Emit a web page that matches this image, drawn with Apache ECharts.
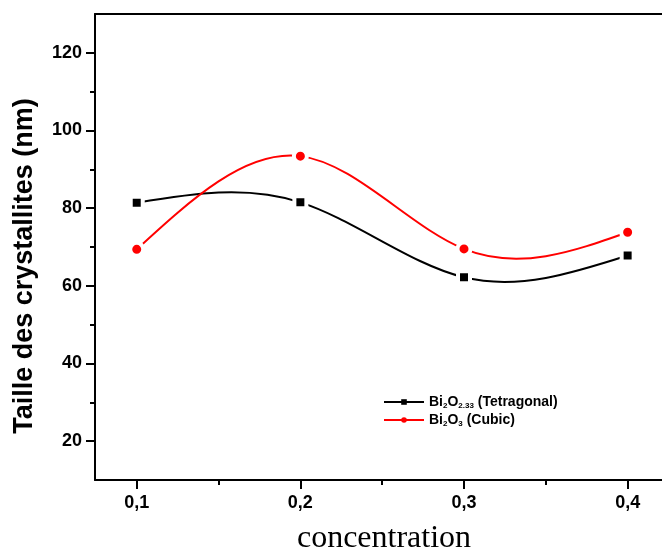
<!DOCTYPE html>
<html>
<head>
<meta charset="utf-8">
<script src="https://cdn.jsdelivr.net/npm/echarts@6/dist/echarts.min.js"></script>
<style>
  html, body { margin: 0; padding: 0; background: #fff; }
  #chart { width: 662px; height: 554px; }
</style>
</head>
<body>
<div id="chart"></div>
<script>
// données
var concentrations = [0.1, 0.2, 0.3, 0.4];
var tetragonal = [81.4, 81.5, 62.2, 67.8];
var cubic = [69.4, 93.4, 69.5, 73.8];
var yTicks = [20, 40, 60, 80, 100, 120];
var yMinorTicks = [30, 50, 70, 90, 110];
var xTicks = [0.1, 0.2, 0.3, 0.4];
var xMinorTicks = [0.15, 0.25, 0.35];
var seriesNames = ['Bi2O2.33 (Tetragonal)', 'Bi2O3 (Cubic)'];
var seriesColors = ['#000000', '#ff0000'];
var legendRich = {
  'Bi2O2.33 (Tetragonal)': '{n|Bi}{s|2}{n|O}{s|2.33}{n| (Tetragonal)}',
  'Bi2O3 (Cubic)': '{n|Bi}{s|2}{n|O}{s|3}{n| (Cubic)}'
};

function pairs(ys) {
  return concentrations.map(function (x, i) { return [x, ys[i]]; });
}

// spline cubique naturelle (comme Origin) tracée en pixels à partir des points convertis par l'axe
function splineRenderer(ys, color) {
  return function (params, api) {
    if (params.dataIndex !== 0) return null;
    var p = concentrations.map(function (x, i) { return api.coord([x, ys[i]]); });
    var n = p.length;
    var h = [], M = new Array(n).fill(0);
    for (var i = 0; i < n - 1; i++) h.push(p[i + 1][0] - p[i][0]);
    // système tridiagonal pour les dérivées secondes
    var a = [], b = [], c = [], d = [];
    for (var i = 1; i < n - 1; i++) {
      a.push(h[i - 1]); b.push(2 * (h[i - 1] + h[i])); c.push(h[i]);
      d.push(6 * ((p[i + 1][1] - p[i][1]) / h[i] - (p[i][1] - p[i - 1][1]) / h[i - 1]));
    }
    var m = b.length;
    for (var i = 1; i < m; i++) {
      var w = a[i] / b[i - 1];
      b[i] -= w * c[i - 1]; d[i] -= w * d[i - 1];
    }
    var sol = new Array(m);
    for (var i = m - 1; i >= 0; i--) sol[i] = (d[i] - (i < m - 1 ? c[i] * sol[i + 1] : 0)) / b[i];
    for (var i = 0; i < m; i++) M[i + 1] = sol[i];
    var children = [];
    for (var i = 0; i < n - 1; i++) {
      var dy = (p[i + 1][1] - p[i][1]) / h[i];
      var s0 = dy - h[i] * (2 * M[i] + M[i + 1]) / 6;
      var s1 = dy + h[i] * (M[i] + 2 * M[i + 1]) / 6;
      children.push({
        type: 'bezierCurve',
        shape: {
          x1: p[i][0], y1: p[i][1], x2: p[i + 1][0], y2: p[i + 1][1],
          cpx1: p[i][0] + h[i] / 3, cpy1: p[i][1] + s0 * h[i] / 3,
          cpx2: p[i + 1][0] - h[i] / 3, cpy2: p[i + 1][1] - s1 * h[i] / 3
        },
        style: { stroke: color, lineWidth: 2, fill: null }
      });
    }
    return { type: 'group', children: children };
  };
}

var chart = echarts.init(document.getElementById('chart'));
var font = 'Liberation Sans, Arial, sans-serif';

var option = {
  animation: false,
  backgroundColor: '#fff',
  grid: { left: 95, right: 0, top: 14, bottom: 74 },
  xAxis: [
    {
      type: 'value', min: 0.0745, max: 0.421,
      axisLine: { show: true, onZero: false, lineStyle: { color: '#000', width: 2 } },
      axisTick: { show: true, customValues: xTicks, length: 9, lineStyle: { color: '#000', width: 2 } },
      axisLabel: {
        customValues: xTicks, margin: 14, color: '#000', fontFamily: font,
        fontWeight: 'bold', fontSize: 18,
        formatter: function (v) { return String(v).replace('.', ','); }
      },
      splitLine: { show: false }
    },
    {
      type: 'value', min: 0.0745, max: 0.421, position: 'bottom',
      axisLine: { show: false },
      axisTick: { show: true, customValues: xMinorTicks, length: 5, lineStyle: { color: '#000', width: 2 } },
      axisLabel: { show: false },
      splitLine: { show: false }
    },
    {
      type: 'value', min: 0.0745, max: 0.421, position: 'top',
      axisLine: { show: true, onZero: false, lineStyle: { color: '#000', width: 2 } },
      axisTick: { show: false }, axisLabel: { show: false }, splitLine: { show: false }
    }
  ],
  yAxis: [
    {
      type: 'value', min: 10, max: 130,
      axisLine: { show: true, onZero: false, lineStyle: { color: '#000', width: 2 } },
      axisTick: { show: true, customValues: yTicks, length: 9, lineStyle: { color: '#000', width: 2 } },
      axisLabel: {
        customValues: yTicks, margin: 13, color: '#000', fontFamily: font,
        fontWeight: 'bold', fontSize: 18
      },
      splitLine: { show: false }
    },
    {
      type: 'value', min: 10, max: 130, position: 'left',
      axisLine: { show: false },
      axisTick: { show: true, customValues: yMinorTicks, length: 5, lineStyle: { color: '#000', width: 2 } },
      axisLabel: { show: false },
      splitLine: { show: false }
    }
  ],
  legend: {
    orient: 'vertical', left: 378, top: 390,
    itemWidth: 40, itemHeight: 7, itemGap: 3,
    data: seriesNames.map(function (name, i) {
      return {
        name: name,
        itemStyle: { color: seriesColors[i], borderWidth: 0 },
        lineStyle: { color: seriesColors[i], width: 2, opacity: 1 }
      };
    }),
    formatter: function (name) { return legendRich[name]; },
    textStyle: {
      color: '#000', fontFamily: font, fontWeight: 'bold', fontSize: 14,
      rich: {
        n: { fontFamily: font, fontWeight: 'bold', fontSize: 14, lineHeight: 16, color: '#000' },
        s: { fontFamily: font, fontWeight: 'bold', fontSize: 8, lineHeight: 16, color: '#000', verticalAlign: 'bottom', padding: [6, 0, 0, 0] }
      }
    }
  },
  graphic: [
    {
      type: 'text', x: 11, y: 266, rotation: Math.PI / 2,
      style: {
        text: 'Taille des crystallites (nm)', fill: '#000',
        font: 'bold 27px Liberation Sans, Arial, sans-serif',
        textAlign: 'center', textVerticalAlign: 'top'
      }
    },
    {
      type: 'text', x: 384, y: 539,
      style: {
        text: 'concentration', fill: '#000',
        font: '32px Liberation Serif, Times New Roman, serif',
        textAlign: 'center', textVerticalAlign: 'middle'
      }
    }
  ],
  series: [
    {
      name: 'spline-tetragonal', type: 'custom', data: pairs(tetragonal),
      renderItem: splineRenderer(tetragonal, seriesColors[0]), z: 1, silent: true
    },
    {
      name: 'spline-cubic', type: 'custom', data: pairs(cubic),
      renderItem: splineRenderer(cubic, seriesColors[1]), z: 1, silent: true
    },
    {
      name: seriesNames[0], type: 'line',
      data: pairs(tetragonal),
      symbol: 'rect', symbolSize: 12, z: 3,
      itemStyle: { color: seriesColors[0], borderColor: '#fff', borderWidth: 4 },
      lineStyle: { opacity: 0 }
    },
    {
      name: seriesNames[1], type: 'line',
      data: pairs(cubic),
      symbol: 'circle', symbolSize: 13, z: 3,
      itemStyle: { color: seriesColors[1], borderColor: '#fff', borderWidth: 4 },
      lineStyle: { opacity: 0 }
    }
  ]
};
chart.setOption(option);
</script>
</body>
</html>
